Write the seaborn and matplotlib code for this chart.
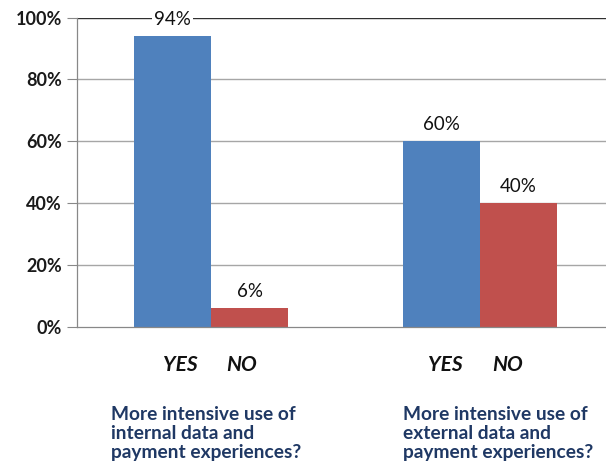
import matplotlib
matplotlib.use("Agg")
import matplotlib.pyplot as plt
import pandas as pd
import seaborn as sns

# Survey answers per question
questions = ["internal", "external"]
answers = ["YES", "NO"]
yes_share = [94, 60]
no_share = [6, 40]
question_texts = [
    "More intensive use of\ninternal data and\npayment experiences?",
    "More intensive use of\nexternal data and\npayment experiences?",
]
y_ticks = [0, 20, 40, 60, 80, 100]
y_tick_labels = ["0%", "20%", "40%", "60%", "80%", "100%"]

df = pd.DataFrame({
    "question": questions * 2,
    "answer": ["YES"] * len(questions) + ["NO"] * len(questions),
    "share": yes_share + no_share,
})

sns.set_theme(style="white")
plt.rcParams["font.family"] = ["Lato", "DejaVu Sans"]

W, H = 606, 465
fig = plt.figure(figsize=(W / 100, H / 100), dpi=100)
ax = fig.add_axes([77 / W, 1 - 326.5 / H, 537 / W, 309 / H])

palette = {"YES": "#4F81BD", "NO": "#C0504D"}
sns.barplot(data=df, x="question", y="share", hue="answer",
            hue_order=answers, order=questions, palette=palette,
            width=0.573, saturation=1, linewidth=0, ax=ax, legend=False)

ax.set_xlim(-0.5, 1.5)
ax.set_ylim(0, 100)
ax.set_yticks(y_ticks)
ax.set_yticklabels(y_tick_labels, fontsize=13, fontweight="bold", color="#1a1a1a")
ax.tick_params(axis="y", length=7, width=0.8, color="#888888", pad=4, left=True)
ax.set_xticks([])
ax.set_xlabel("")
ax.set_ylabel("")

# horizontal gridlines
for t in y_ticks[1:]:
    ax.axhline(t, color="#303030" if t == 100 else "#a6a6a6", lw=1.0, zorder=0)

for side in ["top", "right"]:
    ax.spines[side].set_visible(False)
ax.spines["left"].set_color("#888888")
ax.spines["bottom"].set_color("#888888")
ax.spines["left"].set_linewidth(0.9)
ax.spines["bottom"].set_linewidth(0.9)

# value labels above each bar, on a white box so gridlines stop around them
for container in ax.containers:
    labels = ax.bar_label(container,
                          labels=[f"{v:.0f}%" for v in container.datavalues],
                          padding=6, fontsize=13.5, color="#111111")
    for lab in labels:
        lab.set_bbox(dict(facecolor="white", edgecolor="none", pad=1.5))

# answer labels under the bars and question texts
yes_x = [180, 445]
no_x = [242, 508]
text_x = [111, 403]
for i in range(len(questions)):
    fig.text(yes_x[i] / W, 1 - 365 / H, "YES", ha="center", va="center",
             fontsize=15, fontweight="bold", fontstyle="italic", color="#111111")
    fig.text(no_x[i] / W, 1 - 365 / H, "NO", ha="center", va="center",
             fontsize=15, fontweight="bold", fontstyle="italic", color="#111111")
    fig.text(text_x[i] / W, 1 - 406 / H, question_texts[i], ha="left", va="top",
             fontsize=13.8, fontweight="bold", color="#1F3864", linespacing=1.15)

fig.savefig("out.png", dpi=100, facecolor="white")
